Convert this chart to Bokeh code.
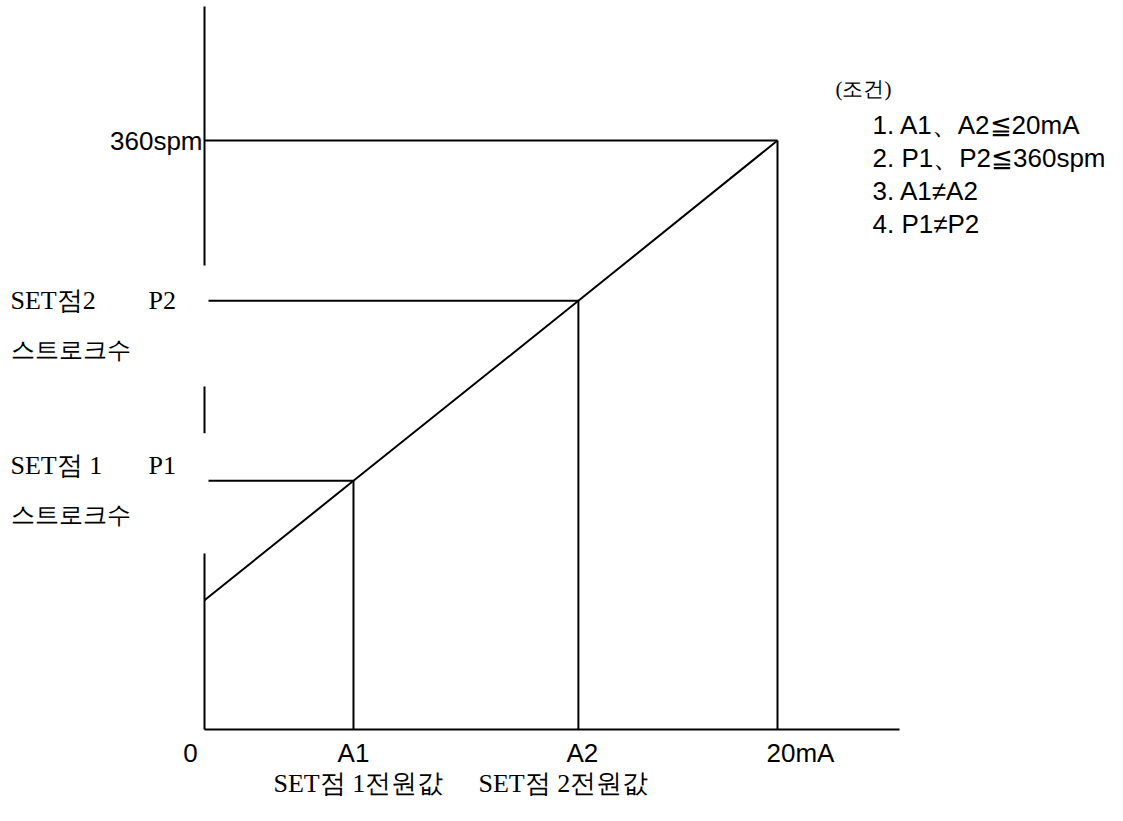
from bokeh.plotting import figure
from bokeh.models import Range1d
from bokeh.embed import file_html
from bokeh.resources import INLINE
from bokeh.core.properties import value

# ---------------- data ----------------
full_current = 20          # mA
full_strokes = 360         # spm
current_pts = [0, 5.2, 13.05, 20]      # 0, A1, A2, 20mA
stroke_pts = [79, 152, 262, 360]       # strokes at those currents
a_labels = ["A1", "A2"]
a_values = [5.2, 13.05]
p_labels = ["P1", "P2"]
p_values = [152, 262]
x_tick_values = [0, 5.2, 13.05, 20]
x_tick_labels = ["0", "A1", "A2", "20mA"]
y_axis_segments = [(0, 107.6), (181, 209.6), (283.6, 441.9)]  # y-axis drawn with breaks
x_axis_end = 24.26
left_titles = ["SET점 1", "SET점2"]
left_sub = "스트로크수"
bottom_captions = ["SET점 1전원값", "SET점 2전원값"]
conditions_title = "(조건)"
conditions = ["1. A1、A2≦20mA", "2. P1、P2≦360spm", "3. A1≠A2", "4. P1≠P2"]

# ---------------- layout ----------------
W, H = 1110, 810
PAGE = 0
ORIGIN_X, ORIGIN_Y = 204, 729      # page px of (0, 0)
TOP_Y = 140                        # page px of 360 spm
RIGHT_X = 777                      # page px of 20 mA
sx = (RIGHT_X - ORIGIN_X) / full_current
sy = (ORIGIN_Y - TOP_Y) / full_strokes
x0 = -(ORIGIN_X - PAGE) / sx
x1 = x0 + W / sx
y1 = (ORIGIN_Y - PAGE) / sy
y0 = y1 - H / sy


def px(X, Y):
    """page pixel -> data coords (for annotation placement)"""
    return x0 + (X - PAGE) / sx, y1 - (Y - PAGE) / sy


p = figure(width=W, height=H, output_backend="svg", toolbar_location=None,
           x_range=Range1d(x0, x1), y_range=Range1d(y0, y1),
           min_border=0, outline_line_color=None)
p.axis.visible = False
p.grid.visible = False
p.background_fill_color = "white"
p.border_fill_color = "white"

LW = 2
C = "black"

# axes
for a, b in y_axis_segments:
    p.segment(x0=[0], y0=[a], x1=[0], y1=[b], line_width=LW, line_color=C)
p.segment(x0=[0], y0=[0], x1=[x_axis_end], y1=[0], line_width=LW, line_color=C)

# characteristic line
p.line(current_pts, stroke_pts, line_width=LW, line_color=C)

# drop lines for A1/A2 and full scale
gap = 4 / sx
for a, pv in zip(a_values, p_values):
    p.segment(x0=[a], y0=[0], x1=[a], y1=[pv], line_width=LW, line_color=C)
    p.segment(x0=[gap], y0=[pv], x1=[a], y1=[pv], line_width=LW, line_color=C)
p.segment(x0=[full_current], y0=[0], x1=[full_current], y1=[full_strokes], line_width=LW, line_color=C)
p.segment(x0=[0], y0=[full_strokes], x1=[full_current], y1=[full_strokes], line_width=LW, line_color=C)

SANS = value("Liberation Sans")
SERIF = value("Liberation Serif")

# x tick labels
tick_dx = [-14, 0, 4, 23]
p.text(x=[v + d / sx for v, d in zip(x_tick_values, tick_dx)],
       y=[-(752 - ORIGIN_Y) / sy] * 4, text=x_tick_labels,
       text_font=SANS, text_font_size="26px", text_align="center",
       text_baseline="middle", text_color=C)

# 360spm label
p.text(x=[-2 / sx], y=[full_strokes], text=[f"{full_strokes}spm"],
       text_font=SANS, text_font_size="26px", text_align="right",
       text_baseline="middle", text_color=C)

# left labels for P1/P2
for lab, pv, dy, num in zip(p_labels, p_values, [15, 0], left_titles):
    yy = pv + dy / sy
    xa, _ = px(10, 0)
    xb, _ = px(148, 0)
    p.text(x=[xa], y=[yy], text=[num], text_font=SERIF, text_font_size="26px",
           text_align="left", text_baseline="middle", text_color=C)
    p.text(x=[xb], y=[yy], text=[lab], text_font=SERIF, text_font_size="26px",
           text_align="left", text_baseline="middle", text_color=C)
    p.text(x=[xa], y=[yy - 49 / sy], text=[left_sub], text_font=SERIF,
           text_font_size="24px", text_align="left", text_baseline="middle", text_color=C)

# bottom captions
for cap, X in zip(bottom_captions, [273, 478]):
    bx, by = px(X, 783)
    p.text(x=[bx], y=[by], text=[cap], text_font=SERIF,
           text_font_size="26px", text_align="left", text_baseline="middle", text_color=C)

# conditions box
tx, ty = px(835, 88)
p.text(x=[tx], y=[ty], text=[conditions_title], text_font=SERIF, text_font_size="21px",
       text_align="left", text_baseline="middle", text_color=C)
cx, cy = px(872, 124)
p.text(x=[cx] * len(conditions), y=[cy - i * 33 / sy for i in range(len(conditions))],
       text=conditions, text_font=SANS, text_font_size="26px", text_align="left",
       text_baseline="middle", text_color=C)

open("out.html", "w").write(file_html(p, INLINE))
